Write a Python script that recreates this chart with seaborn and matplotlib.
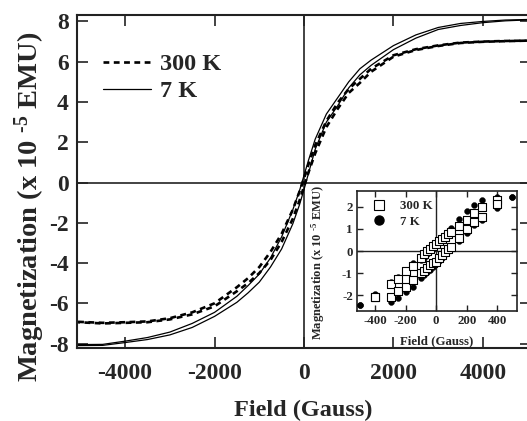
import numpy as np
import pandas as pd
import matplotlib
matplotlib.use("Agg")
import matplotlib.pyplot as plt
import seaborn as sns
from matplotlib.lines import Line2D

# ---------------- data ----------------
field_main = [-5050, -4500, -4000, -3500, -3000, -2500, -2000, -1500, -1250, -1000, -750, -500,
              -250, -100, 0, 100, 250, 500, 750, 1000, 1250, 1500, 2000, 2500, 3000, 3500,
              4000, 4500, 5050]
m7k_up = [-8.05, -8.04, -7.88, -7.70, -7.43, -7.00, -6.45, -5.65, -5.12, -4.55, -3.75, -2.70,
          -1.35, -0.40, 0.35, 1.10, 2.15, 3.40, 4.20, 5.00, 5.65, 6.08, 6.80, 7.33, 7.70, 7.90,
          8.00, 8.07, 8.10]
m7k_low = [-8.10, -8.09, -7.95, -7.80, -7.57, -7.20, -6.65, -5.95, -5.48, -4.95, -4.20, -3.30,
           -2.05, -1.10, -0.35, 0.45, 1.65, 3.00, 3.80, 4.70, 5.35, 5.82, 6.60, 7.17, 7.60, 7.80,
           7.94, 8.03, 8.08]
m300_up = [-6.92, -6.97, -6.94, -6.90, -6.74, -6.45, -6.00, -5.20, -4.75, -4.20, -3.45, -2.55,
           -1.35, -0.45, 0.20, 0.90, 1.85, 3.05, 3.95, 4.65, 5.15, 5.65, 6.32, 6.62, 6.81, 6.95,
           7.00, 7.03, 7.05]
m300_low = [-6.94, -7.00, -6.97, -6.94, -6.80, -6.55, -6.15, -5.40, -5.00, -4.50, -3.85, -2.95,
            -1.80, -0.90, -0.20, 0.50, 1.45, 2.75, 3.65, 4.45, 4.95, 5.50, 6.25, 6.58, 6.78, 6.93,
            6.99, 7.02, 7.05]

ins_field_300 = [-400, -300, -250, -200, -150, -100, -80, -60, -40, -20, 0, 20, 40, 60, 80, 100,
                 150, 200, 250, 300, 400]
ins_300_up = [-2.05, -1.50, -1.27, -0.92, -0.68, -0.30, -0.15, -0.02, 0.10, 0.22, 0.33, 0.45,
              0.55, 0.65, 0.76, 0.87, 1.12, 1.40, 1.70, 2.00, 2.30]
ins_300_low = [-2.05, -2.06, -1.82, -1.60, -1.30, -1.00, -0.88, -0.76, -0.64, -0.56, -0.48, -0.32,
               -0.18, -0.05, 0.08, 0.20, 0.57, 1.00, 1.32, 1.55, 2.10]
ins_field_7k = [-500, -400, -300, -250, -200, -150, -100, -80, -60, -40, -20, 0, 20, 40, 60, 80,
                100, 150, 200, 250, 300, 400, 500]
ins_7k_up = [-2.45, -1.95, -1.40, -1.15, -0.85, -0.55, -0.42, -0.30, -0.15, 0.00, 0.12, 0.25,
             0.40, 0.55, 0.70, 0.85, 1.05, 1.45, 1.78, 2.05, 2.30, 2.45, 2.45]
ins_7k_low = [-2.45, -2.00, -2.30, -2.10, -1.85, -1.60, -1.20, -1.10, -0.95, -0.85, -0.70, -0.60,
              -0.45, -0.30, -0.15, 0.00, 0.18, 0.45, 0.80, 1.15, 1.40, 1.95, 2.45]

main_xticks = [-4000, -2000, 0, 2000, 4000]
main_yticks = [-8, -6, -4, -2, 0, 2, 4, 6, 8]
ins_xticks = [-400, -200, 0, 200, 400]
ins_yticks = [-2, -1, 0, 1, 2]

ylabel_text = r'Magnetization (x 10 $^{\text{-5}}$ EMU)'

# ---------------- style ----------------
sns.set_style("ticks")
plt.rcParams['font.family'] = ['Liberation Serif', 'DejaVu Serif']
plt.rcParams['font.weight'] = 'bold'
plt.rcParams['axes.unicode_minus'] = False
plt.rcParams['mathtext.fontset'] = 'custom'
plt.rcParams['mathtext.rm'] = 'Liberation Serif:bold'
plt.rcParams['mathtext.bf'] = 'Liberation Serif:bold'
plt.rcParams['mathtext.it'] = 'Liberation Serif:bold'

INK = '#222222'
DASH = (0, (2.2, 1.7))

fig = plt.figure(figsize=(5.27, 4.21), dpi=100)
ax = fig.add_axes([77/527, 1-348/421, 454/527, 333/421])

def lp(x, y, **kw):
    df = pd.DataFrame({'F': x, 'M': y})
    sns.lineplot(data=df, x='F', y='M', sort=False, estimator=None, ax=ax, **kw)

lp(field_main, m300_up, color='black', lw=1.9, linestyle=DASH)
lp(field_main, m300_low, color='black', lw=1.9, linestyle=(1.5, (2.2, 1.7)))
lp(field_main, m7k_up, color='black', lw=0.9)
lp(field_main, m7k_low, color='black', lw=0.9)

ax.axhline(0, color=INK, lw=1.2, zorder=0)
ax.axvline(0, color=INK, lw=1.2, zorder=0)

ax.set_xlim(-5075, 5075)
ax.set_ylim(-8.22, 8.32)
ax.set_xticks(main_xticks)
ax.set_yticks(main_yticks)
ax.set_xticklabels([str(v) for v in main_xticks])
ax.set_yticklabels([str(v) for v in main_yticks])
ax.tick_params(direction='in', length=8, width=1.2, top=True, right=True,
               labelsize=17, color=INK, pad=6)
ax.tick_params(axis='x', pad=11)
for lab in ax.get_xticklabels() + ax.get_yticklabels():
    lab.set_fontweight('bold')
for s in ax.spines.values():
    s.set_linewidth(1.5)
    s.set_color(INK)

ax.set_xlabel('Field (Gauss)', fontsize=17.5, fontweight='bold')
ax.set_ylabel(ylabel_text, fontsize=20.5, fontweight='bold')
ax.xaxis.set_label_coords(0.498, -0.157)
ax.yaxis.set_label_coords(-0.066, 0.425)

handles = [Line2D([], [], color='black', lw=1.9, linestyle=DASH),
           Line2D([], [], color='black', lw=0.9)]
leg = ax.legend(handles, ['300 K', '7 K'], loc='upper left', bbox_to_anchor=(0.035, 0.915),
                frameon=False, fontsize=17.5, handlelength=2.0, handletextpad=0.35,
                labelspacing=0.22, borderaxespad=0)
for t in leg.get_texts():
    t.set_fontweight('bold')

# ---------------- inset ----------------
axi = fig.add_axes([357/527, 1-311/421, 160/527, 120/421])
axi.set_facecolor('white')
d7 = pd.DataFrame({'F': ins_field_7k + ins_field_7k, 'M': ins_7k_up + ins_7k_low})
d3 = pd.DataFrame({'F': ins_field_300 + ins_field_300, 'M': ins_300_up + ins_300_low})
sns.scatterplot(data=d7, x='F', y='M', ax=axi, marker='o', s=18, color='black',
                edgecolor='black', linewidth=0.3, zorder=3)
sns.scatterplot(data=d3, x='F', y='M', ax=axi, marker='s', s=34, facecolor='white',
                edgecolor='black', linewidth=0.8, zorder=4)
axi.axhline(0, color=INK, lw=1.0, zorder=1)
axi.axvline(0, color=INK, lw=1.0, zorder=1)
axi.set_xlim(-520, 530)
axi.set_ylim(-2.7, 2.7)
axi.set_xticks(ins_xticks)
axi.set_yticks(ins_yticks)
axi.set_xticklabels([str(v) for v in ins_xticks])
axi.set_yticklabels([str(v) for v in ins_yticks])
axi.tick_params(direction='in', length=4, width=1.0, top=True, right=True,
                labelsize=9.3, color=INK, pad=3)
for lab in axi.get_xticklabels() + axi.get_yticklabels():
    lab.set_fontweight('bold')
for s in axi.spines.values():
    s.set_linewidth(1.2)
    s.set_color(INK)
axi.set_xlabel('Field (Gauss)', fontsize=9.3, fontweight='bold', labelpad=6)
axi.set_ylabel(ylabel_text, fontsize=9.0, fontweight='bold')
axi.yaxis.set_label_coords(-0.19, 0.40)
ih = [Line2D([], [], marker='s', linestyle='none', markerfacecolor='white',
             markeredgecolor='black', markersize=6.5, markeredgewidth=0.8),
      Line2D([], [], marker='o', linestyle='none', color='black', markersize=6.5)]
il = axi.legend(ih, ['300 K', '7 K'], loc='upper left', frameon=False, fontsize=9.3,
                handletextpad=0.6, labelspacing=0.3, borderaxespad=0.3)
for t in il.get_texts():
    t.set_fontweight('bold')

fig.savefig('out.png', dpi=100)
